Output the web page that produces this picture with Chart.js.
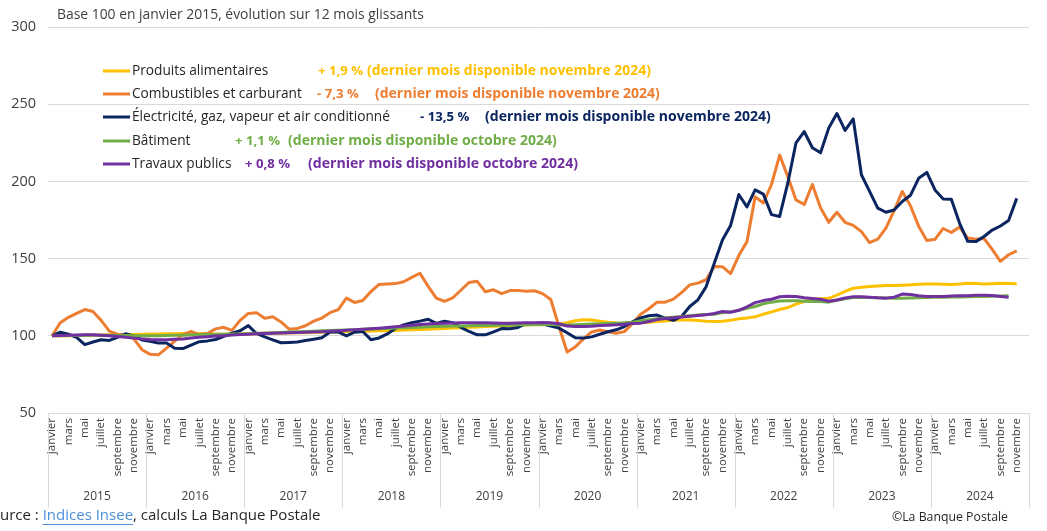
<!DOCTYPE html>
<html><head><meta charset="utf-8">
<script src="https://cdn.jsdelivr.net/npm/chart.js@4.4.1/dist/chart.umd.min.js"></script>
<style>html,body{margin:0;padding:0;background:#fff;}canvas{display:block;}</style>
</head><body>
<canvas id="c" width="1047" height="531" style="width:1047px;height:531px"></canvas>
<script>
const FONT = '"Open Sans", "Noto Sans", sans-serif';
const months = ["janvier","février","mars","avril","mai","juin","juillet","août","septembre","octobre","novembre","décembre"];
const years = [2015,2016,2017,2018,2019,2020,2021,2022,2023,2024];
const yTicks = [50,100,150,200,250,300];

const alimentaires = [
100,100,100.1,100.2,100.3,100.4,100.5,100.6,100.7,100.8,100.9,101,
101.1,101.2,101.3,101.4,101.5,101.6,101.5,101.4,101.2,101,101,101.1,
101.2,101.3,101.4,101.6,101.7,101.8,101.9,102,102.1,102.3,102.5,102.7,
102.8,102.9,103,103.1,103.2,103.3,103.5,103.7,103.9,104.1,104.3,104.6,
104.8,105,105.2,105.5,105.7,106,106.2,106.4,106.6,106.8,107,107.1,
107.2,107.3,107.6,108.5,109.8,110.4,110.2,109.5,108.8,108.3,108.2,108.3,
108.5,108.8,109.2,109.6,110,110.3,110.3,109.9,109.5,109.3,109.5,110,
111,111.5,112.3,114,115.5,117,118.3,120.5,122.2,123.5,124,124.3,
126.3,128.8,130.8,131.5,132,132.3,132.6,132.6,132.8,133,133.4,133.5,
133.5,133.4,133.2,133.5,134,133.8,133.5,133.7,134,133.8,133.7];

const combustibles = [
100,108.5,112,114.5,117,115.7,110,103,101,100.7,98,91,
88,87.7,92,96.5,100.8,102.8,100.8,101.5,104.5,105.5,103.5,110,
114.5,115,111.3,112.3,109,104.3,104.8,106.5,109.5,111.5,115,117,
124.4,121.6,122.9,128.6,133.3,133.6,133.8,135,137.8,140.5,132,124.4,
122.3,124.5,129.5,134.5,135.3,128.5,129.8,127.3,129.3,129.3,128.8,129.2,
127.3,123.5,106,89.5,92.8,98,102.5,103.8,102.6,101.7,102.7,108,
114,117.5,121.8,121.8,123.8,128,133,134.1,136.3,144.9,144.8,140.3,
152,161,190,186,198,217,203,188,185,198,183,173.5,
180,173.5,171.5,167.5,160.4,162.6,169.7,181,193.5,184.2,171,161.7,
162.5,169.5,166.9,170.5,163.3,162.6,163,156,148.2,152.5,155];

const electricite = [
100,102.3,101,99,94.3,96,97.4,97,99,101.3,99.8,97.3,
96.4,95.4,95.3,92,91.7,94,96.2,96.7,97.6,99.7,101.7,103.3,
106.6,101.5,99.3,97.4,95.5,95.7,96,96.9,97.8,98.8,102.5,102.6,
100,102.3,102.8,97.5,98.6,101.2,104.8,107,108.5,109.5,110.7,108,
109.5,108.5,105.5,102.8,100.6,100.6,102.6,104.7,104.6,105.4,108.2,107.3,
107.6,106.3,105,102,98.7,98.5,99.3,101,102.6,103.9,106,109,
111.6,113,113.4,111.5,110,112.5,119,123.3,131.7,147,162,171.5,
191.5,183.5,194.5,191.8,178.5,177.3,199,225,232.3,221.8,218.5,234.5,
244,233,240.5,204.3,193.5,182.7,180,181.5,187,191,202,205.8,
194.5,188.6,188.5,173,161.2,161,164.3,168.5,171.1,174.7,189];

const batiment = [
100,100.1,100.2,100.2,100.3,100.3,100.3,100.3,100.2,100.2,100.1,100.1,
100.1,100.1,100.2,100.3,100.4,100.6,100.7,100.8,100.9,101,101.1,101.2,
101.4,101.6,101.8,102,102.2,102.4,102.6,102.8,103,103.2,103.4,103.6,
103.8,104,104.2,104.4,104.6,104.8,105,105.2,105.4,105.6,105.8,106,
106.2,106.3,106.4,106.5,106.6,106.7,106.8,106.9,107,107.1,107.2,107.3,
107.3,107.3,107.2,107,107.2,107.4,107.6,107.8,108,108.2,108.4,108.8,
109.8,110.4,111,111.5,112,112.5,113,113.5,113.8,114,115,115.5,
116.5,117.8,119,120.7,121.8,122.5,122.7,122.7,122.4,122.2,122.2,121.8,
123,124,124.8,125,124.8,124.6,124.5,124.4,124.4,124.5,124.6,124.8,
124.9,125,125.1,125.2,125.3,125.4,125.5,125.6,125.8,125.9,null];

const travaux = [
100,100.2,100.4,100.5,100.6,100.6,100.4,100,99.6,99.1,98.5,98,
97.6,97.4,97.5,97.7,98,98.5,99,99.4,99.8,100.1,100.5,100.8,
101,101.3,101.5,101.7,101.8,101.9,102.1,102.3,102.5,102.7,102.9,103.2,
103.6,104,104.3,104.6,104.9,105.3,105.8,106.3,106.8,107.3,107.6,107.9,
108.1,108.3,108.4,108.5,108.5,108.4,108.3,108.2,108.2,108.3,108.4,108.5,
108.6,108.5,107.8,106.3,106,106,106.2,106.6,106.9,107.1,107.5,108,
108.2,109.3,110.5,111.2,111.7,112.1,112.6,113.1,113.7,114.4,115.7,115.3,
116.5,118.8,121.5,122.8,123.7,125.3,125.6,125.4,124.6,124.1,123.7,122.4,
123.2,124.5,125.3,125.3,125,124.6,124.4,125,127,126.7,126,125.5,
125.5,125.5,125.7,125.9,126,126.2,126.2,126.1,125.5,125,null];

const seriesNames = ["Produits alimentaires","Combustibles et carburant","Électricité, gaz, vapeur et air conditionné","Bâtiment","Travaux publics"];
const seriesColors = ["#FFC000","#ED7D31","#0B2560","#70AD47","#7030A0"];
const changes = ["+ 1,9 %","- 7,3 %","- 13,5 %","+ 1,1 %","+ 0,8 %"];
const lastMonths = ["(dernier mois disponible novembre 2024)","(dernier mois disponible novembre 2024)","(dernier mois disponible novembre 2024)","(dernier mois disponible octobre 2024)","(dernier mois disponible octobre 2024)"];
const seriesData = [alimentaires, combustibles, electricite, batiment, travaux];

const labels = [];
years.forEach(y => months.forEach(m => labels.push(m)));

// layout constants (text placement)
const legendRows = [71, 94, 117, 141, 164];
const changeX = [318, 317, 420, 235, 245];
const noteX = [367, 375, 485, 288, 308];
const noteW = [284, 285, 286, 269, 270];

function fitFont(c, text, weight, base, target) {
  c.font = weight + ' ' + base + 'px ' + FONT;
  const w = c.measureText(text).width;
  const s = base * target / w;
  c.font = weight + ' ' + s.toFixed(2) + 'px ' + FONT;
}

const decor = {
  id: 'decor',
  afterDraw(chart) {
    const c = chart.ctx, a = chart.chartArea;
    const xs = chart.scales.x;
    const n = labels.length;
    const slot = (a.right - a.left) / n;
    c.save();
    // subtitle
    c.fillStyle = '#404040';
    c.textBaseline = 'middle';
    c.textAlign = 'left';
    const sub = 'Base 100 en janvier 2015, évolution sur 12 mois glissants';
    fitFont(c, sub, 'normal', 13, 367);
    c.fillText(sub, 57, 15);
    // year separators and labels
    c.strokeStyle = '#D9D9D9';
    c.lineWidth = 1;
    for (let k = 0; k <= years.length; k++) {
      const x = Math.round(a.left + k * 12 * slot) + 0.5;
      c.beginPath(); c.moveTo(x, a.bottom); c.lineTo(x, 508); c.stroke();
    }
    c.fillStyle = '#404040';
    c.font = '12px ' + FONT;
    c.textAlign = 'center';
    years.forEach((y, k) => {
      const x = (xs.getPixelForValue(k * 12) + xs.getPixelForValue(k * 12 + 11)) / 2;
      c.fillText(String(y), x, 497);
    });
    // legend
    seriesNames.forEach((name, i) => {
      const y = legendRows[i];
      c.strokeStyle = seriesColors[i];
      c.lineWidth = 3;
      c.beginPath(); c.moveTo(103, y); c.lineTo(130, y); c.stroke();
      c.fillStyle = '#262626';
      c.font = '13.7px ' + FONT;
      c.textAlign = 'left';
      c.fillText(name, 132, y);
      c.fillStyle = seriesColors[i];
      c.font = 'bold 13.2px ' + FONT;
      c.fillText(changes[i], changeX[i], y);
      fitFont(c, lastMonths[i], 'bold', 14, noteW[i]);
      c.fillText(lastMonths[i], noteX[i], y);
    });
    // footer
    c.font = '15px ' + FONT;
    c.fillStyle = '#262626';
    c.textAlign = 'left';
    const pre = 'Source : ';
    const off = c.measureText('So').width;
    let x = -off;
    c.fillText(pre, x, 516); x += c.measureText(pre).width;
    c.fillStyle = '#4A90D9';
    const link = 'Indices Insee';
    c.fillText(link, x, 516);
    const lw = c.measureText(link).width;
    c.strokeStyle = '#4A90D9'; c.lineWidth = 1;
    c.beginPath(); c.moveTo(x, 524.5); c.lineTo(x + lw, 524.5); c.stroke();
    x += lw;
    c.fillStyle = '#262626';
    c.fillText(', calculs La Banque Postale', x, 516);
    c.font = '12.3px ' + FONT;
    c.textAlign = 'right';
    c.fillText('©La Banque Postale', 1008, 517);
    c.restore();
  }
};

const order = [5, 4, 3, 2, 1];
new Chart(document.getElementById('c'), {
  type: 'line',
  data: {
    labels: labels,
    datasets: seriesNames.map((name, i) => ({
      label: name,
      data: seriesData[i],
      borderColor: seriesColors[i],
      backgroundColor: seriesColors[i],
      borderWidth: 3,
      pointRadius: 0,
      tension: 0,
      fill: false,
      spanGaps: false,
      borderJoinStyle: 'round',
      order: order[i]
    }))
  },
  options: {
    responsive: false,
    animation: false,
    devicePixelRatio: 1,
    layout: { padding: { top: 27, right: 18, left: 0, bottom: 0 } },
    plugins: { legend: { display: false }, tooltip: { enabled: false }, title: { display: false } },
    scales: {
      x: {
        offset: true,
        grid: { display: false, drawTicks: false },
        border: { display: false },
        ticks: {
          autoSkip: false, minRotation: 90, maxRotation: 90, padding: 5,
          color: '#404040', font: { family: FONT, size: 11.5 },
          callback: (v, i) => (i % 2 === 0 ? labels[i] : '')
        },
        afterFit(s) { s.height = 531 - 413; }
      },
      y: {
        min: yTicks[0], max: yTicks[yTicks.length - 1],
        afterBuildTicks(s) { s.ticks = yTicks.map(v => ({ value: v })); },
        grid: { color: '#D9D9D9', drawTicks: false, lineWidth: 1 },
        border: { display: false },
        ticks: { padding: 12, color: '#404040', font: { family: FONT, size: 14.5 } },
        afterFit(s) { s.width = 48; }
      }
    }
  },
  plugins: [decor]
});
</script>
</body></html>
